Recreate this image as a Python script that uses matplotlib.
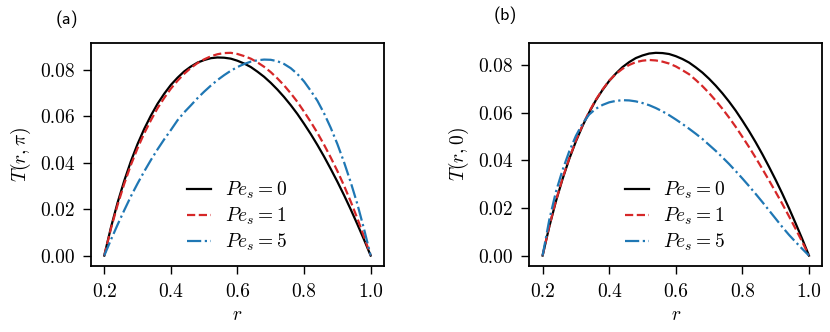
import numpy as np
import matplotlib
matplotlib.use("Agg")
import matplotlib.pyplot as plt

plt.rcParams["mathtext.fontset"] = "cm"
plt.rcParams["font.family"] = "serif"
plt.rcParams["font.serif"] = ["cmr10"]
plt.rcParams["axes.formatter.use_mathtext"] = True

# radial positions (shared by all curves)
r = [0.20, 0.22, 0.24, 0.26, 0.28, 0.30, 0.32, 0.34, 0.36, 0.38, 0.40,
     0.42, 0.44, 0.46, 0.48, 0.50, 0.52, 0.54, 0.56, 0.58, 0.60,
     0.62, 0.64, 0.66, 0.68, 0.70, 0.72, 0.74, 0.76, 0.78, 0.80,
     0.82, 0.84, 0.86, 0.88, 0.90, 0.92, 0.94, 0.96, 0.98, 1.00]

# Pe_s = 0 (same curve in both panels)
t_pe0 = [0.0000, 0.0121, 0.0228, 0.0322, 0.0406, 0.0480, 0.0545, 0.0602, 0.0653, 0.0696, 0.0734,
         0.0765, 0.0792, 0.0813, 0.0830, 0.0841, 0.0849, 0.0852, 0.0851, 0.0847, 0.0838,
         0.0826, 0.0811, 0.0791, 0.0769, 0.0743, 0.0714, 0.0682, 0.0647, 0.0609, 0.0567,
         0.0523, 0.0476, 0.0426, 0.0373, 0.0318, 0.0260, 0.0199, 0.0135, 0.0069, 0.0000]

# panel (a): T(r, pi)
ta_pe1 = [0.0000, 0.0116, 0.0218, 0.0309, 0.0390, 0.0462, 0.0526, 0.0582, 0.0634, 0.0678, 0.0718,
          0.0752, 0.0782, 0.0807, 0.0828, 0.0844, 0.0857, 0.0866, 0.0871, 0.0872, 0.0867,
          0.0858, 0.0847, 0.0831, 0.0812, 0.0789, 0.0762, 0.0732, 0.0698, 0.0661, 0.0619,
          0.0575, 0.0528, 0.0477, 0.0422, 0.0364, 0.0301, 0.0233, 0.0160, 0.0082, 0.0000]
ta_pe5 = [0.0000, 0.0068, 0.0133, 0.0195, 0.0255, 0.0310, 0.0362, 0.0411, 0.0457, 0.0500, 0.0540,
          0.0582, 0.0616, 0.0646, 0.0677, 0.0705, 0.0731, 0.0755, 0.0776, 0.0795, 0.0811,
          0.0824, 0.0834, 0.0840, 0.0843, 0.0842, 0.0836, 0.0824, 0.0806, 0.0781, 0.0749,
          0.0709, 0.0666, 0.0612, 0.0550, 0.0480, 0.0402, 0.0316, 0.0222, 0.0115, 0.0000]

# panel (b): T(r, 0)
tb_pe1 = [0.0000, 0.0123, 0.0231, 0.0325, 0.0409, 0.0483, 0.0548, 0.0605, 0.0655, 0.0698, 0.0735,
          0.0763, 0.0785, 0.0801, 0.0813, 0.0819, 0.0822, 0.0820, 0.0815, 0.0807, 0.0795,
          0.0779, 0.0762, 0.0738, 0.0712, 0.0683, 0.0651, 0.0617, 0.0580, 0.0541, 0.0499,
          0.0456, 0.0411, 0.0364, 0.0316, 0.0267, 0.0217, 0.0165, 0.0112, 0.0057, 0.0000]
tb_pe5 = [0.0000, 0.0150, 0.0268, 0.0360, 0.0438, 0.0503, 0.0555, 0.0593, 0.0617, 0.0633, 0.0644,
          0.0650, 0.0653, 0.0652, 0.0648, 0.0641, 0.0632, 0.0620, 0.0606, 0.0590, 0.0572,
          0.0553, 0.0533, 0.0512, 0.0490, 0.0465, 0.0440, 0.0413, 0.0385, 0.0355, 0.0324,
          0.0292, 0.0259, 0.0225, 0.0190, 0.0155, 0.0120, 0.0087, 0.0057, 0.0028, 0.0000]

labels = [r"$Pe_s = 0$", r"$Pe_s = 1$", r"$Pe_s = 5$"]
styles = [("black", "-"), ("#d62728", "--"), ("#1f77b4", "-.")]

fig = plt.figure(figsize=(8.3, 3.32), dpi=100)
ax_a = fig.add_axes([0.1096, 0.1997, 0.3530, 0.6717])
ax_b = fig.add_axes([0.6377, 0.1997, 0.3530, 0.6717])

panels = [(ax_a, [t_pe0, ta_pe1, ta_pe5], r"$T(r,\pi)$"),
          (ax_b, [t_pe0, tb_pe1, tb_pe5], r"$T(r,0)$")]

for ax, curves, ylab in panels:
    for t, (col, ls), lab in zip(curves, styles, labels):
        ax.plot(r, t, color=col, linestyle=ls, linewidth=1.6, label=lab)
    ax.set_xticks([0.2, 0.4, 0.6, 0.8, 1.0])
    ax.set_yticks([0.0, 0.02, 0.04, 0.06, 0.08])
    ax.set_xticklabels(["0.2", "0.4", "0.6", "0.8", "1.0"])
    ax.set_yticklabels(["0.00", "0.02", "0.04", "0.06", "0.08"])
    ax.tick_params(labelsize=14, length=6, width=1.0)
    ax.tick_params(axis="x", pad=6.5)
    ax.tick_params(axis="y", pad=5.5)
    for s in ax.spines.values():
        s.set_linewidth(1.3)
    ax.set_xlabel(r"$r$", fontsize=14, labelpad=4)
    ax.set_ylabel(ylab, fontsize=14, labelpad=5.5)
    ax.legend(loc="center", bbox_to_anchor=(0.497, 0.22), frameon=False, fontsize=14,
              handlelength=1.25, handletextpad=0.7, labelspacing=0.25, borderpad=0.2)

fig.text(0.0804, 0.942, "(a)", family="cmss10", fontsize=13, ha="center", va="center")
fig.text(0.6084, 0.953, "(b)", family="cmss10", fontsize=13, ha="center", va="center")

fig.savefig("out.png", dpi=100)
